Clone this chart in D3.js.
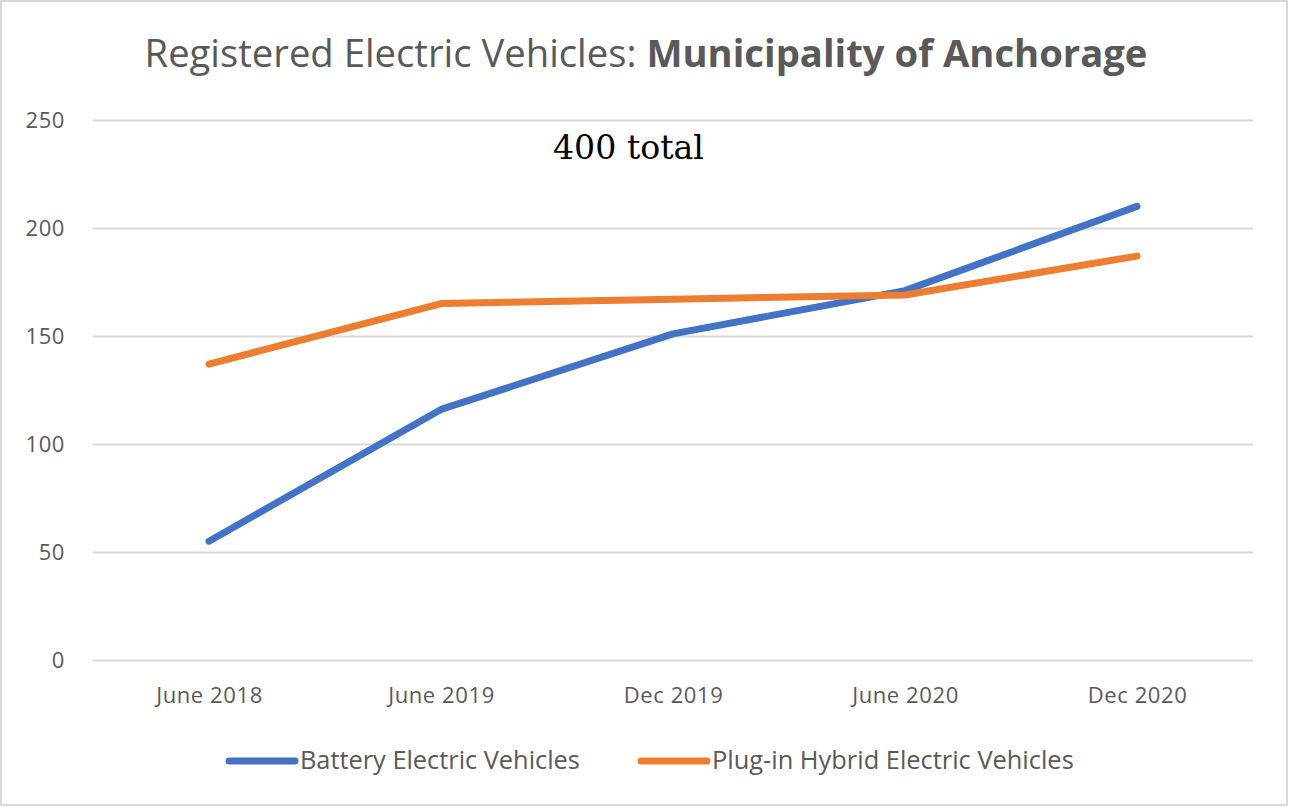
<!DOCTYPE html>
<html>
<head>
<meta charset="utf-8">
<style>
  body { margin: 0; background: #fff; }
  text { font-family: "Open Sans", "Liberation Sans", sans-serif; }
</style>
</head>
<body>
<div id="chart"></div>
<script src="https://d3js.org/d3.v7.min.js"></script>
<script>
// ---- data ----
var categories = ["June 2018", "June 2019", "Dec 2019", "June 2020", "Dec 2020"];
var battery = [55, 116, 151, 171, 210];
var hybrid = [137, 165, 167, 169, 187];
var seriesNames = ["Battery Electric Vehicles", "Plug-in Hybrid Electric Vehicles"];
var yTicks = [0, 50, 100, 150, 200, 250];

var W = 1289, H = 807;
var margin = { top: 120, right: 34, bottom: 147, left: 93 };
var width = 1253 - margin.left, height = 660 - margin.top;
var colors = ["#4472C4", "#ED7D31"];
var textColor = "#595959";

var svg = d3.select("#chart").append("svg")
  .attr("width", W)
  .attr("height", H);

// outer border
svg.append("rect")
  .attr("x", 1).attr("y", 1)
  .attr("width", W - 3).attr("height", H - 3)
  .attr("fill", "#fff")
  .attr("stroke", "#d9d9d9")
  .attr("stroke-width", 2);

// fit a text element's font size so it spans a given width
function fitText(sel, target) {
  var w = sel.node().getComputedTextLength();
  var fs = parseFloat(sel.attr("font-size"));
  sel.attr("font-size", fs * target / w);
}

// title
var title = svg.append("text")
  .attr("x", 646).attr("y", 67)
  .attr("text-anchor", "middle")
  .attr("font-size", 34)
  .attr("fill", textColor);
title.append("tspan").text("Registered Electric Vehicles: ");
title.append("tspan").attr("font-weight", "bold").text("Municipality of Anchorage");
fitText(title, 1003);

var g = svg.append("g")
  .attr("transform", "translate(" + margin.left + "," + margin.top + ")");

var x = d3.scalePoint()
  .domain(categories)
  .range([0, width])
  .padding(0.5);

var y = d3.scaleLinear()
  .domain([0, 250])
  .range([height, 0]);

// gridlines
g.append("g")
  .attr("class", "grid")
  .call(d3.axisLeft(y).tickValues(yTicks).tickSize(-width).tickFormat(""))
  .call(function(a) { a.select(".domain").remove(); })
  .selectAll("line")
  .attr("stroke", "#d9d9d9")
  .attr("stroke-width", 2);

// y labels
var yAxis = g.append("g")
  .call(d3.axisLeft(y).tickValues(yTicks).tickSize(0).tickPadding(28));
yAxis.select(".domain").remove();
yAxis.selectAll("text")
  .attr("font-size", 22)
  .style("font-family", "'Open Sans', sans-serif")
  .style("letter-spacing", "0.6px")
  .attr("fill", textColor);

// x labels
var xAxis = g.append("g")
  .attr("transform", "translate(0," + height + ")")
  .call(d3.axisBottom(x).tickSize(0).tickPadding(27));
xAxis.select(".domain").remove();
xAxis.selectAll("text")
  .attr("font-size", 22)
  .style("font-family", "'Open Sans', sans-serif")
  .style("letter-spacing", "0.6px")
  .attr("fill", textColor);

// lines
var line = d3.line()
  .x(function(d, i) { return x(categories[i]); })
  .y(function(d) { return y(d); });

[battery, hybrid].forEach(function(s, i) {
  g.append("path")
    .datum(s)
    .attr("d", line)
    .attr("fill", "none")
    .attr("stroke", colors[i])
    .attr("stroke-width", 7)
    .attr("stroke-linecap", "round")
    .attr("stroke-linejoin", "round");
});

// annotation
var note = svg.append("text")
  .attr("x", 553).attr("y", 159)
  .attr("font-size", 32)
  .style("font-family", "'DejaVu Serif', 'Liberation Serif', serif")
  .attr("fill", "#000")
  .text("400 total");
fitText(note, 151);

// legend
var legendX = [229, 641], legendW = [280, 362];
seriesNames.forEach(function(name, i) {
  var lg = svg.append("g").attr("transform", "translate(" + legendX[i] + ",761)");
  lg.append("line")
    .attr("x1", 0).attr("x2", 66)
    .attr("stroke", colors[i])
    .attr("stroke-width", 7)
    .attr("stroke-linecap", "round");
  var t = lg.append("text")
    .attr("x", 71).attr("y", 8)
    .attr("font-size", 21)
    .attr("fill", textColor)
    .text(name);
  fitText(t, legendW[i]);
});
</script>
</body>
</html>
